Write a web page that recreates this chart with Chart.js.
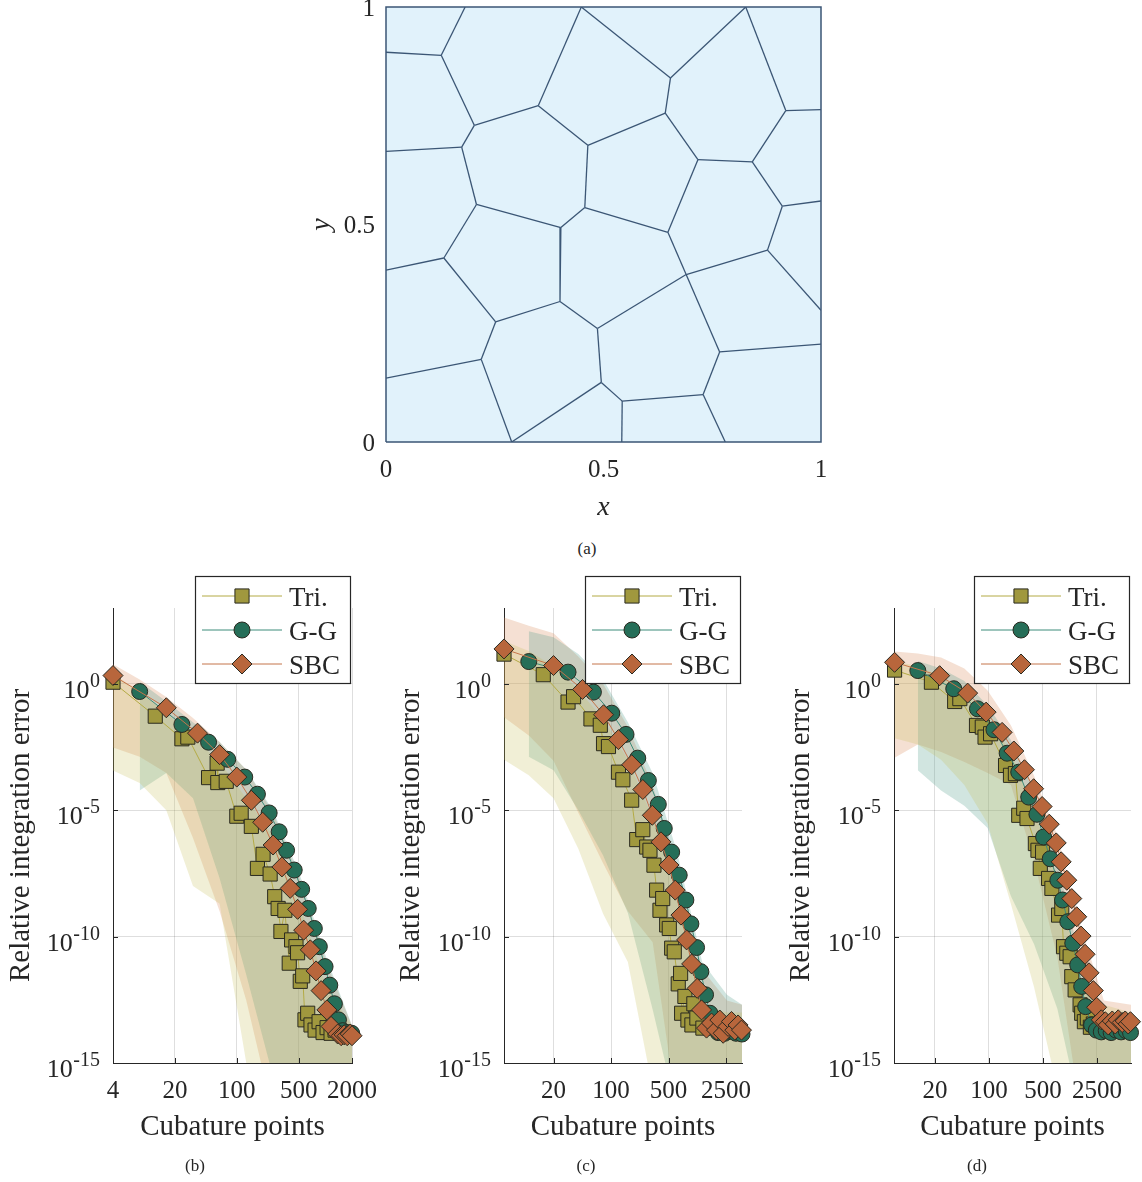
<!DOCTYPE html>
<html>
<head>
<meta charset="utf-8">
<script src="https://cdn.jsdelivr.net/npm/chart.js@4.4.1/dist/chart.umd.min.js"></script>
<style>
  body { margin: 0; background: #fff; }
  #page { position: relative; width: 1142px; height: 1182px; font-family: "Liberation Serif", "Times New Roman", serif; color: #262626; }
  canvas { position: absolute; }
  .cap { position: absolute; font-size: 17px; transform: translate(-50%, -50%); white-space: nowrap; }
</style>
</head>
<body>
<div id="page">
  <canvas id="mesh" width="540" height="530" style="left:300px;top:0px"></canvas>
  <div class="cap" style="left:587px;top:549px">(a)</div>
  <canvas id="errB" width="390" height="612" style="left:0px;top:570px"></canvas>
  <canvas id="errC" width="390" height="612" style="left:390px;top:570px"></canvas>
  <canvas id="errD" width="362" height="612" style="left:780px;top:570px"></canvas>
  <div class="cap" style="left:195px;top:1166px">(b)</div>
  <div class="cap" style="left:586px;top:1166px">(c)</div>
  <div class="cap" style="left:977px;top:1166px">(d)</div>
</div>
<script>
const FONT = '"Liberation Serif", "Times New Roman", serif';
const INK = '#262626';
Chart.defaults.font.family = FONT;
Chart.defaults.color = INK;

// ---- (a) polygonal mesh, unit square ----
const meshTicks = [0, 0.5, 1];
const meshBoundary = [[0, 0], [1, 0], [1, 1], [0, 1], [0, 0]];
// each edge: x1, y1, x2, y2
const voronoiEdges = [
  [0.182, 1.000, 0.127, 0.889], [0.000, 0.896, 0.127, 0.889], [0.127, 0.889, 0.203, 0.728],
  [0.449, 1.000, 0.350, 0.773], [0.203, 0.728, 0.350, 0.773], [0.449, 1.000, 0.654, 0.837],
  [0.827, 1.000, 0.654, 0.837], [0.654, 0.837, 0.642, 0.756], [0.827, 1.000, 0.919, 0.762],
  [0.919, 0.762, 1.000, 0.764], [0.919, 0.762, 0.842, 0.644], [0.350, 0.773, 0.464, 0.682],
  [0.464, 0.682, 0.642, 0.756], [0.642, 0.756, 0.717, 0.649], [0.717, 0.649, 0.842, 0.644],
  [0.203, 0.728, 0.174, 0.678], [0.000, 0.668, 0.174, 0.678], [0.174, 0.678, 0.208, 0.546],
  [0.464, 0.682, 0.457, 0.539], [0.842, 0.644, 0.911, 0.542], [0.911, 0.542, 1.000, 0.554],
  [0.717, 0.649, 0.648, 0.482], [0.208, 0.546, 0.402, 0.493], [0.402, 0.493, 0.457, 0.539],
  [0.457, 0.539, 0.648, 0.482], [0.911, 0.542, 0.877, 0.441], [0.648, 0.482, 0.690, 0.385],
  [0.690, 0.385, 0.877, 0.441], [0.877, 0.441, 1.000, 0.303], [0.208, 0.546, 0.133, 0.423],
  [0.000, 0.395, 0.133, 0.423], [0.402, 0.493, 0.400, 0.323], [0.690, 0.385, 0.486, 0.261],
  [0.133, 0.423, 0.252, 0.276], [0.252, 0.276, 0.400, 0.323], [0.400, 0.323, 0.486, 0.261],
  [0.690, 0.385, 0.767, 0.207], [0.767, 0.207, 1.000, 0.225], [0.252, 0.276, 0.219, 0.190],
  [0.000, 0.147, 0.219, 0.190], [0.486, 0.261, 0.495, 0.137], [0.219, 0.190, 0.289, 0.000],
  [0.495, 0.137, 0.289, 0.000], [0.495, 0.137, 0.543, 0.094], [0.543, 0.094, 0.542, 0.000],
  [0.543, 0.094, 0.729, 0.109], [0.729, 0.109, 0.767, 0.207], [0.729, 0.109, 0.780, 0.000]
];

// ---- error plots, shared y ticks ----
const yTicksErr = [1e-15, 1e-10, 1e-5, 1];

// (b)
const xTicksB = [4, 20, 100, 500, 2000];
const triXB = [4, 12, 24, 28, 48, 60, 61, 76, 100, 112, 146, 171, 198, 238, 268, 293, 315, 349, 391, 416, 466, 486, 521, 555, 589, 632, 689, 766, 850, 943, 1047, 1161, 1289];
const triYB = [1.16, 0.0526, 6.7e-3, 7.8e-3, 1.95e-4, 7.3e-4, 1.24e-4, 1.39e-4, 5.8e-6, 7.6e-6, 2.3e-6, 5e-8, 1.8e-7, 3e-8, 3.8e-9, 1.3e-9, 1.6e-10, 1.1e-9, 8.9e-12, 7.4e-11, 4e-11, 2.3e-11, 1.7e-12, 2.8e-12, 5.1e-14, 9.3e-14, 3.2e-14, 2e-14, 4.3e-14, 1.6e-14, 2.5e-14, 1.5e-14, 2e-14];
const ggXB = [8, 24, 48, 79, 123, 171, 232, 301, 365, 445, 540, 641, 751, 855, 993, 1123, 1265, 1406, 1570, 1765, 1985];
const ggYB = [0.497, 0.0247, 4.9e-3, 1.03e-3, 2.05e-4, 4.3e-5, 7.8e-6, 1.4e-6, 2.6e-7, 4.3e-8, 7.4e-9, 1.3e-9, 2.1e-10, 4e-11, 6.5e-12, 1.2e-12, 2.2e-13, 5.1e-14, 1.9e-14, 1.6e-14, 1.5e-14];
const sbcXB = [4, 16, 36, 64, 100, 146, 196, 257, 323, 401, 486, 569, 676, 785, 895, 1040, 1161, 1380, 1510, 1630, 1765, 1910, 2000];
const sbcYB = [2.13, 0.113, 0.0112, 1.58e-3, 2.05e-4, 2.47e-5, 3.34e-6, 4.2e-7, 5.7e-8, 8.1e-9, 1.2e-9, 1.8e-10, 3e-11, 4.4e-12, 7.3e-13, 1.26e-13, 2.8e-14, 1.4e-14, 1.2e-14, 1.3e-14, 1.2e-14, 1.4e-14, 1.2e-14];
const bandXB = [4, 8, 16, 32, 64, 128, 256, 512, 1024, 2000];
const triHiB = [2.5, 0.5, 0.07, 8e-3, 8e-4, 3e-5, 1e-6, 2e-9, 1e-12, 3e-14];
const triLoB = [3.7e-4, 1.2e-4, 1e-5, 1e-8, 2e-9, 1e-15, 1e-17, 1e-17, 1e-17, 1e-17];
const ggHiB = [null, 1.2, 0.2, 0.03, 5e-3, 4e-4, 1e-5, 3e-8, 1.5e-11, 3e-14];
const ggLoB = [null, 6e-5, 3e-4, 3e-5, 2e-8, 3e-12, 3e-16, 1e-17, 1e-17, 1e-17];
const sbcHiB = [6, 1.5, 0.3, 0.045, 5e-3, 4e-4, 8e-6, 2e-8, 1e-11, 3e-14];
const sbcLoB = [3e-3, 1.3e-3, 3e-4, 8e-7, 1e-9, 3e-13, 1e-17, 1e-17, 1e-17, 1e-17];

// (c)
const xTicksC = [20, 100, 500, 2500];
const triXC = [5, 15, 30, 35, 57, 74, 81, 93, 123, 139, 178, 205, 243, 271, 297, 332, 358, 393, 424, 474, 510, 545, 586, 655, 700, 720, 789, 859, 960, 1014, 1104, 1306];
const triYC = [15, 2.3, 0.19, 0.31, 0.041, 0.023, 4.3e-3, 3.3e-3, 3.2e-4, 1.6e-4, 2.5e-5, 6.9e-7, 1.7e-6, 3.5e-7, 2.6e-7, 6.7e-8, 6.9e-9, 1.1e-9, 3.2e-9, 2.9e-10, 2.1e-10, 3.5e-11, 2.5e-11, 1.35e-12, 3.5e-12, 9.3e-14, 4.3e-13, 5e-14, 3.2e-14, 2.2e-13, 6e-14, 2.4e-14];
const ggXC = [10, 30, 61, 102, 152, 211, 284, 375, 443, 545, 673, 811, 933, 1094, 1233, 1406, 1589, 2000, 2400, 2800, 3300, 3900];
const ggYC = [7.6, 2.9, 0.47, 0.069, 0.01, 1.15e-3, 1.5e-4, 1.7e-5, 1.9e-6, 2.2e-7, 2.7e-8, 2.8e-9, 3.2e-10, 3.7e-11, 4.1e-12, 5e-13, 9.3e-14, 1.6e-14, 1.5e-14, 1.8e-14, 1.5e-14, 1.4e-14];
const sbcXC = [5, 20, 45, 81, 123, 178, 243, 317, 404, 505, 602, 706, 828, 953, 1112, 1258, 1446, 1664, 1911, 2097, 2302, 2643, 2905, 3186, 3494, 3844];
const sbcYC = [24, 5.3, 0.6, 0.06, 6.2e-3, 6.3e-4, 6.6e-5, 6.3e-6, 5.6e-7, 6.8e-8, 6.9e-9, 7.1e-10, 7.4e-11, 8.3e-12, 9e-13, 1.26e-13, 2.4e-14, 3.8e-14, 2e-14, 5e-14, 1.5e-14, 2.8e-14, 4.4e-14, 2e-14, 3.2e-14, 2e-14];
const bandXC = [5, 10, 20, 40, 80, 160, 320, 640, 1280, 2560, 3900];
const triHiC = [50, 20, 5, 0.6, 0.04, 1e-3, 5e-6, 3e-9, 2e-13, 1e-13, 1e-13];
const triLoC = [1e-3, 2.4e-4, 3e-5, 3e-7, 8e-10, 1e-11, 1e-16, 1e-17, 1e-17, 1e-17, 1e-17];
const ggHiC = [null, 120, 70, 15, 1.5, 0.03, 3e-4, 2e-7, 1e-11, 5e-13, 2e-13];
const ggLoC = [null, 1.3e-3, 3.8e-4, 1e-5, 1.6e-7, 8.6e-10, 1.3e-13, 1e-17, 1e-17, 1e-17, 1e-17];
const sbcHiC = [420, 200, 100, 12, 1, 0.02, 1e-4, 5e-8, 5e-12, 3e-13, 2e-13];
const sbcLoC = [0.048, 9e-3, 9e-4, 8e-6, 8e-8, 1e-9, 6e-11, 1e-17, 1e-17, 1e-17, 1e-17];

// (d)
const xTicksD = [20, 100, 500, 2500];
const triXD = [6, 18, 36, 42, 69, 82, 89, 105, 164, 190, 220, 243, 282, 311, 399, 431, 462, 495, 592, 653, 796, 877, 923, 1018, 1125, 1181, 1306, 1514, 1587, 1720, 1880, 2057, 2246];
const triYD = [3.5, 1.16, 0.2, 0.26, 0.0226, 0.0194, 7.8e-3, 0.0106, 5.9e-4, 2.4e-4, 2.8e-4, 6.3e-6, 1.2e-5, 4.7e-6, 4.8e-7, 2.6e-7, 5e-8, 2.2e-7, 2e-8, 8.1e-9, 7.1e-10, 1.3e-9, 4e-11, 2.2e-11, 1.6e-11, 2.6e-12, 7.8e-13, 2e-13, 9.3e-14, 4.3e-14, 6e-14, 2.6e-14, 3.5e-14];
const ggXD = [12, 35, 71, 116, 172, 243, 327, 418, 510, 622, 780, 896, 1049, 1216, 1410, 1587, 1787, 2134, 2455, 2845, 3297, 3820, 4434, 5140, 5967, 6800];
const ggYD = [3.35, 0.64, 0.103, 0.0153, 1.8e-3, 3.2e-4, 3.3e-5, 6.9e-6, 8.7e-7, 1.2e-7, 1.7e-8, 2.8e-9, 3.9e-10, 5.5e-11, 7.6e-12, 1.07e-12, 1.7e-13, 3.2e-14, 2e-14, 1.7e-14, 1.9e-14, 1.6e-14, 2e-14, 1.7e-14, 1.9e-14, 1.6e-14];
const sbcXD = [6, 23, 53, 92, 148, 210, 288, 379, 488, 604, 743, 861, 1018, 1181, 1369, 1559, 1755, 1977, 2246, 2478, 2845, 3207, 3502, 3944, 4314, 4713, 5307, 5800, 6340, 6800];
const sbcYD = [7.1, 2.1, 0.43, 0.076, 0.012, 2.2e-3, 4e-4, 7.1e-5, 1.4e-5, 2.8e-6, 5.1e-7, 9.1e-8, 1.7e-8, 3.2e-9, 6.1e-10, 1.05e-10, 2e-11, 3.7e-12, 7.3e-13, 1.6e-13, 5.1e-14, 4.3e-14, 3.2e-14, 4.6e-14, 3.5e-14, 5.1e-14, 4e-14, 4.6e-14, 3.5e-14, 4.3e-14];
const bandXD = [6, 12, 24, 48, 96, 192, 384, 768, 1536, 3072, 6900];
const triHiD = [8, 5, 2, 0.5, 0.05, 2e-3, 1e-5, 2e-8, 2e-12, 2e-13, 1e-13];
const triLoD = [7e-3, 4e-3, 1e-3, 1e-4, 3e-6, 2e-9, 1e-12, 1e-16, 1e-17, 1e-17, 1e-17];
const ggHiD = [null, 8, 4, 1.3, 0.14, 6e-3, 6e-5, 1e-7, 1e-11, 1e-13, 8e-14];
const ggLoD = [null, 3.8e-4, 6e-5, 1.5e-5, 2e-6, 4e-9, 5e-11, 1.4e-13, 1e-17, 1e-17, 1e-17];
const sbcHiD = [19, 16, 11, 4, 0.55, 0.023, 2.3e-4, 1e-6, 2.8e-10, 3e-13, 2e-13];
const sbcLoD = [1.2e-3, 4e-3, 2e-3, 8e-4, 3e-4, 1e-4, 1e-7, 1.5e-11, 1e-17, 1e-17, 1e-17];

// series look
const SERIES = [
  { label: 'Tri.', style: 'rect', r: 10, fill: '#a0983e', line: '#b3aa45', band: 'rgba(200,190,90,0.25)', order: 3 },
  { label: 'G-G', style: 'circle', r: 8, fill: '#266e58', line: '#3d8c7a', band: 'rgba(70,150,130,0.25)', order: 2 },
  { label: 'SBC', style: 'rectRot', r: 10, fill: '#b8663c', line: '#c4744a', band: 'rgba(215,130,80,0.25)', order: 1 }
];
const MARK_EDGE = '#2a2a20';

const pts = (xs, ys) => xs.map((x, i) => ({ x: x, y: ys[i] }));

function drawMarker(ctx, style, x, y, r) {
  ctx.beginPath();
  if (style === 'circle') {
    ctx.arc(x, y, r, 0, Math.PI * 2);
  } else if (style === 'rect') {
    const h = r * Math.SQRT1_2;
    ctx.rect(x - h, y - h, 2 * h, 2 * h);
  } else {
    ctx.moveTo(x, y - r); ctx.lineTo(x + r, y); ctx.lineTo(x, y + r); ctx.lineTo(x - r, y);
    ctx.closePath();
  }
  ctx.fill();
  ctx.stroke();
}

// inward ticks, 10^n labels and the boxed legend
const matlabLook = {
  id: 'matlabLook',
  afterDraw(chart) {
    const ctx = chart.ctx, a = chart.chartArea;
    const xs = chart.scales.x, ys = chart.scales.y;
    ctx.save();
    ctx.strokeStyle = INK;
    ctx.lineWidth = 1;
    xs.ticks.forEach(t => {
      const px = Math.round(xs.getPixelForValue(t.value)) + 0.5;
      ctx.beginPath(); ctx.moveTo(px, a.bottom); ctx.lineTo(px, a.bottom - 5); ctx.stroke();
    });
    ys.ticks.forEach(t => {
      const py = Math.round(ys.getPixelForValue(t.value)) + 0.5;
      ctx.beginPath(); ctx.moveTo(a.left, py); ctx.lineTo(a.left + 5, py); ctx.stroke();
    });

    ctx.fillStyle = INK;
    ctx.textBaseline = 'alphabetic';
    const right = a.left - 13;
    ys.ticks.forEach(t => {
      const py = ys.getPixelForValue(t.value);
      const e = String(Math.round(Math.log10(t.value)));
      ctx.font = '20px ' + FONT;
      const we = ctx.measureText(e).width;
      ctx.textAlign = 'left';
      ctx.fillText(e, right - we, py + 3);
      ctx.font = '26px ' + FONT;
      ctx.textAlign = 'right';
      ctx.fillText('10', right - we - 0.5, py + 14);
    });

    // legend box
    const bw = 155, bh = 107;
    const bx = a.right - 2 - bw, by = a.top - 32;
    ctx.fillStyle = '#fff';
    ctx.fillRect(bx, by, bw, bh);
    ctx.lineWidth = 1.2;
    ctx.strokeStyle = INK;
    ctx.strokeRect(bx + 0.5, by + 0.5, bw, bh);
    chart.data.datasets.filter(d => d.seriesIdx !== undefined).forEach(d => {
      const s = SERIES[d.seriesIdx];
      const ry = by + 20 + d.seriesIdx * 34;
      ctx.strokeStyle = s.line;
      ctx.lineWidth = 1;
      ctx.beginPath(); ctx.moveTo(bx + 7, ry); ctx.lineTo(bx + 87, ry); ctx.stroke();
      ctx.fillStyle = s.fill;
      ctx.strokeStyle = MARK_EDGE;
      drawMarker(ctx, s.style, bx + 47, ry, s.r);
      ctx.fillStyle = INK;
      ctx.font = '27px ' + FONT;
      ctx.textAlign = 'left';
      ctx.fillText(s.label, bx + 94, ry + 9.5);
    });
    ctx.restore();
  }
};

function errorChart(id, cfg) {
  const datasets = [];
  cfg.series.forEach((sd, k) => {
    const s = SERIES[k];
    datasets.push({
      seriesIdx: k,
      data: pts(sd.x, sd.y),
      showLine: true,
      borderColor: s.line,
      borderWidth: 1,
      pointStyle: s.style,
      pointRadius: s.r,
      pointBackgroundColor: s.fill,
      pointBorderColor: MARK_EDGE,
      pointBorderWidth: 1,
      clip: false,
      order: s.order
    });
  });
  cfg.series.forEach((sd, k) => {
    const s = SERIES[k];
    datasets.push({ data: pts(cfg.bandX, sd.hi), showLine: true, borderColor: 'transparent', pointRadius: 0, fill: false, order: 10 });
    datasets.push({ data: pts(cfg.bandX, sd.lo), showLine: true, borderColor: 'transparent', pointRadius: 0, fill: '-1', backgroundColor: s.band, order: 10 });
  });

  new Chart(document.getElementById(id), {
    type: 'scatter',
    data: { datasets },
    plugins: [matlabLook],
    options: {
      responsive: false,
      animation: false,
      devicePixelRatio: 1,
      events: [],
      layout: { padding: { top: 38, right: cfg.padRight, left: 0, bottom: 0 } },
      plugins: { legend: { display: false }, tooltip: { enabled: false } },
      scales: {
        x: {
          type: 'logarithmic',
          min: cfg.xMin, max: cfg.xMax,
          afterBuildTicks: sc => { sc.ticks = cfg.xTicks.map(v => ({ value: v })); },
          afterFit: sc => { sc.height = 119; },
          grid: { color: 'rgba(0,0,0,0.13)', drawTicks: false },
          border: { display: true, color: INK, width: 1 },
          ticks: { callback: v => String(v), font: { size: 25 }, color: INK, padding: 13, autoSkip: false, maxRotation: 0 },
          title: { display: true, text: 'Cubature points', font: { size: 29 }, color: INK, padding: { top: 0, bottom: 37 } }
        },
        y: {
          type: 'logarithmic',
          min: 1e-15, max: 1e3,
          afterBuildTicks: sc => { sc.ticks = yTicksErr.map(v => ({ value: v })); },
          afterFit: sc => { sc.width = cfg.yWidth; },
          grid: { color: 'rgba(0,0,0,0.13)', drawTicks: false },
          border: { display: true, color: INK, width: 1 },
          ticks: { display: false },
          title: { display: true, text: 'Relative integration error', font: { size: 29 }, color: INK, padding: { top: 4, bottom: 0 } }
        }
      }
    }
  });
}

errorChart('errB', {
  xMin: 4, xMax: 2000, xTicks: xTicksB, yWidth: 113, padRight: 38, bandX: bandXB,
  series: [
    { x: triXB, y: triYB, hi: triHiB, lo: triLoB },
    { x: ggXB, y: ggYB, hi: ggHiB, lo: ggLoB },
    { x: sbcXB, y: sbcYB, hi: sbcHiB, lo: sbcLoB }
  ]
});
errorChart('errC', {
  xMin: 5, xMax: 3900, xTicks: xTicksC, yWidth: 114, padRight: 38, bandX: bandXC,
  series: [
    { x: triXC, y: triYC, hi: triHiC, lo: triLoC },
    { x: ggXC, y: ggYC, hi: ggHiC, lo: ggLoC },
    { x: sbcXC, y: sbcYC, hi: sbcHiC, lo: sbcLoC }
  ]
});
errorChart('errD', {
  xMin: 5.9, xMax: 6900, xTicks: xTicksD, yWidth: 114, padRight: 9, bandX: bandXD,
  series: [
    { x: triXD, y: triYD, hi: triHiD, lo: triLoD },
    { x: ggXD, y: ggYD, hi: ggHiD, lo: ggLoD },
    { x: sbcXD, y: sbcYD, hi: sbcHiD, lo: sbcLoD }
  ]
});

// ---- (a) mesh chart ----
const EDGE = '#3b5675';
const cellFill = {
  id: 'cellFill',
  beforeDatasetsDraw(chart) {
    const a = chart.chartArea;
    chart.ctx.save();
    chart.ctx.fillStyle = '#e1f2fb';
    chart.ctx.fillRect(a.left, a.top, a.right - a.left, a.bottom - a.top);
    chart.ctx.restore();
  }
};
const meshSets = [{
  data: meshBoundary.map(p => ({ x: p[0], y: p[1] })),
  showLine: true, borderColor: EDGE, borderWidth: 1.5, pointRadius: 0, clip: 4
}];
voronoiEdges.forEach(e => {
  meshSets.push({
    data: [{ x: e[0], y: e[1] }, { x: e[2], y: e[3] }],
    showLine: true, borderColor: EDGE, borderWidth: 1.3, pointRadius: 0
  });
});
new Chart(document.getElementById('mesh'), {
  type: 'scatter',
  data: { datasets: meshSets },
  plugins: [cellFill],
  options: {
    responsive: false,
    animation: false,
    devicePixelRatio: 1,
    events: [],
    layout: { padding: { top: 7, right: 19, left: 0, bottom: 0 } },
    plugins: { legend: { display: false }, tooltip: { enabled: false } },
    scales: {
      x: {
        type: 'linear', min: 0, max: 1,
        afterBuildTicks: sc => { sc.ticks = meshTicks.map(v => ({ value: v })); },
        afterFit: sc => { sc.height = 88; sc.paddingLeft = 0; sc.paddingRight = 0; },
        grid: { display: false, drawTicks: false },
        border: { display: false },
        ticks: { callback: v => String(v), font: { size: 25 }, color: INK, padding: 13 },
        title: { display: true, text: 'x', font: { size: 28, style: 'italic' }, color: INK, padding: { top: 0, bottom: 6 } }
      },
      y: {
        type: 'linear', min: 0, max: 1,
        afterBuildTicks: sc => { sc.ticks = meshTicks.map(v => ({ value: v })); },
        afterFit: sc => { sc.width = 86; sc.paddingTop = 0; sc.paddingBottom = 0; },
        grid: { display: false, drawTicks: false },
        border: { display: false },
        ticks: { callback: v => String(v), font: { size: 25 }, color: INK, padding: 11, labelOffset: 2 },
        title: { display: true, text: 'y', font: { size: 28, style: 'italic' }, color: INK, padding: { top: 5, bottom: 0 } }
      }
    }
  }
});
</script>
</body>
</html>
